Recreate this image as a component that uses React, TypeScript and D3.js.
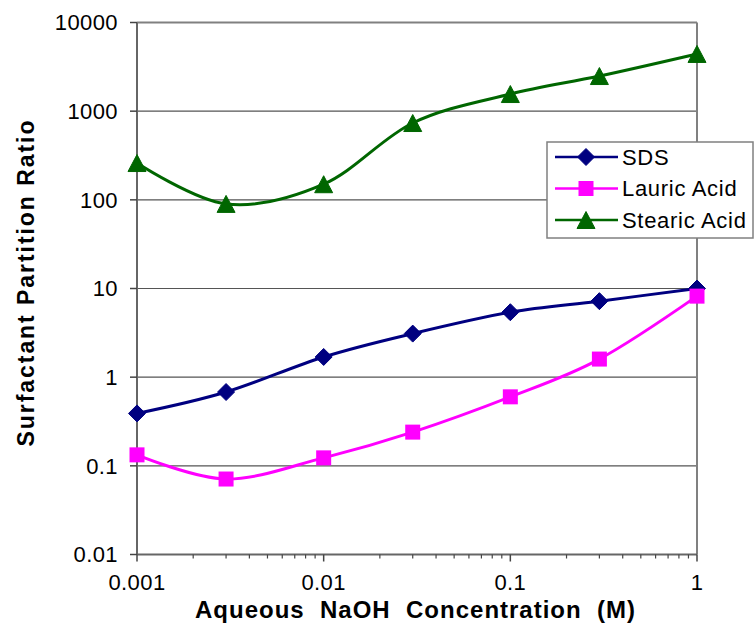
import React from "react";
import * as d3 from "d3";

const concentrations = [0.001, 0.003, 0.01, 0.03, 0.1, 0.3, 1];
const sdsValues = [0.39, 0.68, 1.69, 3.1, 5.4, 7.2, 10];
const lauricValues = [0.133, 0.071, 0.123, 0.24, 0.6, 1.6, 8.2];
const stearicValues = [260, 90, 150, 735, 1560, 2490, 4420];
const seriesNames = ["SDS", "Lauric Acid", "Stearic Acid"];
const seriesColors = ["#000080", "#FF00FF", "#006600"];
const seriesMarkers = ["diamond", "square", "triangle"];
const yTicks = [0.01, 0.1, 1, 10, 100, 1000, 10000];
const yTickLabels = ["0.01", "0.1", "1", "10", "100", "1000", "10000"];
const xTicks = [0.001, 0.01, 0.1, 1];
const xTickLabels = ["0.001", "0.01", "0.1", "1"];

const W = 756;
const H = 637;
const L = 137, R = 697, T = 22.5, B = 554.5;

function Marker({ type, x, y, color }: { type: string; x: number; y: number; color: string }) {
  if (type === "diamond") {
    const s = 8.5;
    return <path d={`M${x},${y - s}L${x + s},${y}L${x},${y + s}L${x - s},${y}Z`} fill={color} stroke={color} strokeWidth={1} />;
  }
  if (type === "square") {
    const s = 7.5;
    return <rect x={x - s} y={y - s} width={2 * s} height={2 * s} fill={color} />;
  }
  const w = 9, h = 8.5;
  return <path d={`M${x},${y - h}L${x + w},${y + h}L${x - w},${y + h}Z`} fill={color} stroke={color} strokeWidth={1} />;
}

export default function App() {
  const x = d3.scaleLog().domain([0.001, 1]).range([L, R]);
  const y = d3.scaleLog().domain([0.01, 10000]).range([B, T]);
  const allSeries = [sdsValues, lauricValues, stearicValues];
  const line = d3
    .line<[number, number]>()
    .x((d) => x(d[0]))
    .y((d) => y(d[1]))
    .curve(d3.curveCatmullRom.alpha(0));

  const minorX: number[] = [];
  for (let e = -3; e < 0; e++) {
    for (let m = 2; m <= 9; m++) minorX.push(m * Math.pow(10, e));
  }

  const tickFont = { fontFamily: "Liberation Sans, Arial, sans-serif", fontSize: 22, letterSpacing: 0.4 };

  return (
    <svg width={W} height={H} style={{ position: "absolute", left: 0, top: 0, background: "#fff" }}>
      <rect x={0} y={0} width={W} height={H} fill="#fff" />
      {/* gridlines */}
      {yTicks.slice(1, -1).map((t) => (
        <line key={t} x1={L} x2={R} y1={y(t)} y2={y(t)} stroke="#555" strokeWidth={1.2} />
      ))}
      {/* plot border */}
      <line x1={L} x2={R} y1={T} y2={T} stroke="#808080" strokeWidth={2} />
      <line x1={R} x2={R} y1={T} y2={B} stroke="#808080" strokeWidth={2} />
      <line x1={L} x2={L} y1={T} y2={B} stroke="#666" strokeWidth={2} />
      <line x1={L} x2={R} y1={B} y2={B} stroke="#666" strokeWidth={2} />
      {/* y ticks */}
      {yTicks.map((t, i) => (
        <g key={t}>
          <line x1={L - 7} x2={L} y1={y(t)} y2={y(t)} stroke="#444" strokeWidth={1.5} />
          <text x={118} y={y(t)} dy="0.36em" textAnchor="end" {...tickFont} fill="#000">
            {yTickLabels[i]}
          </text>
        </g>
      ))}
      {/* x ticks */}
      {minorX.map((t) => (
        <line key={t} x1={x(t)} x2={x(t)} y1={B} y2={B + 4} stroke="#444" strokeWidth={1.2} />
      ))}
      {xTicks.map((t, i) => (
        <g key={t}>
          <line x1={x(t)} x2={x(t)} y1={B} y2={B + 7} stroke="#444" strokeWidth={1.5} />
          <text x={x(t)} y={590} textAnchor="middle" {...tickFont} fill="#000">
            {xTickLabels[i]}
          </text>
        </g>
      ))}
      {/* series */}
      {allSeries.map((vals, si) => {
        const pts: [number, number][] = concentrations.map((c, i) => [c, vals[i]]);
        return (
          <g key={si}>
            <path d={line(pts) || ""} fill="none" stroke={seriesColors[si]} strokeWidth={3} />
            {pts.map((p, i) => (
              <Marker key={i} type={seriesMarkers[si]} x={x(p[0])} y={y(p[1])} color={seriesColors[si]} />
            ))}
          </g>
        );
      })}
      {/* legend */}
      <g>
        <rect x={547} y={142} width={206} height={96} fill="#fff" stroke="#808080" strokeWidth={1.5} />
        {seriesNames.map((n, i) => {
          const ly = 157 + i * 31.5;
          return (
            <g key={n}>
              <line x1={555} x2={618} y1={ly} y2={ly} stroke={seriesColors[i]} strokeWidth={2.5} />
              <Marker type={seriesMarkers[i]} x={586} y={ly} color={seriesColors[i]} />
              <text x={622} y={ly} dy="0.36em" {...tickFont} letterSpacing={0.7} fill="#000">
                {n}
              </text>
            </g>
          );
        })}
      </g>
      {/* axis titles */}
      <text
        x={415}
        y={618}
        textAnchor="middle"
        fontFamily="Liberation Sans, Arial, sans-serif"
        fontWeight="bold"
        fontSize={24}
        textLength={440}
        lengthAdjust="spacing"
        style={{ whiteSpace: "pre" }}
        fill="#000"
      >
        {"Aqueous  NaOH  Concentration  (M)"}
      </text>
      <text
        transform={`translate(34,${283.5}) rotate(-90)`}
        textAnchor="middle"
        fontFamily="Liberation Sans, Arial, sans-serif"
        fontWeight="bold"
        fontSize={23}
        textLength={326}
        lengthAdjust="spacing"
        fill="#000"
      >
        Surfactant Partition Ratio
      </text>
    </svg>
  );
}
